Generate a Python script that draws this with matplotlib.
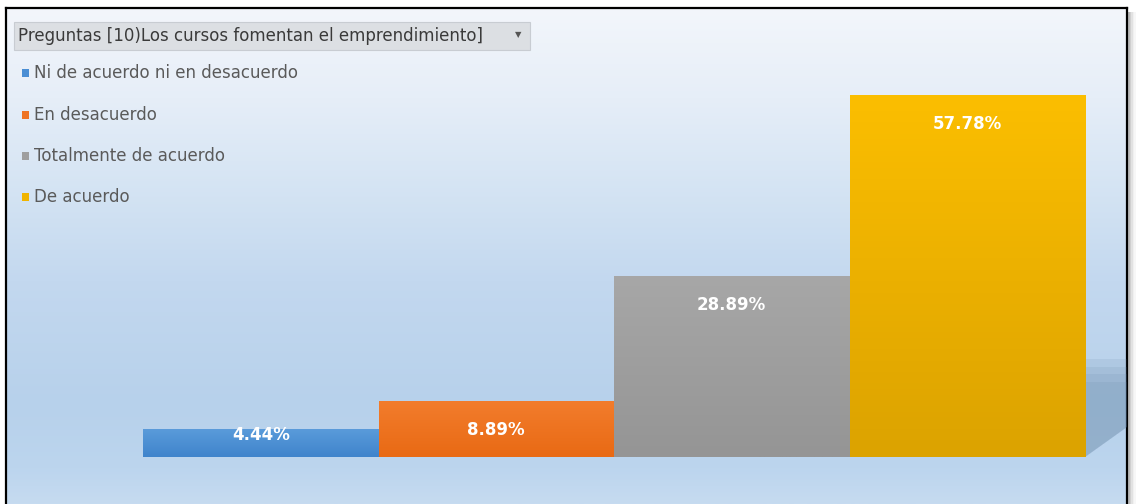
import matplotlib.pyplot as plt
import numpy as np
from matplotlib.patches import Rectangle, Polygon
from matplotlib.colors import LinearSegmentedColormap

# datos
categorias = ['Ni de acuerdo ni en desacuerdo', 'En desacuerdo',
              'Totalmente de acuerdo', 'De acuerdo']
porcentajes = [4.44, 8.89, 28.89, 57.78]
etiquetas = ['4.44%', '8.89%', '28.89%', '57.78%']
titulo_filtro = 'Preguntas [10)Los cursos fomentan el emprendimiento]'

colores = ['#4a8ed4', '#ee7324', '#9f9f9f', '#f0b400']
colores_arriba = ['#5a9bda', '#f27c2c', '#a7a7a7', '#fbbe00']
colores_abajo = ['#3f84cc', '#e96a14', '#959595', '#dca300']

W, H = 1140, 504
plt.rcParams['font.family'] = ['DejaVu Sans']

fig = plt.figure(figsize=(W / 100, H / 100), dpi=100)
fig.patch.set_facecolor('white')

# fondo con degradado dentro del marco
bg = fig.add_axes([6 / W, 0, (1127 - 6) / W, (H - 8) / H])
fondo = LinearSegmentedColormap.from_list('fondo', [
    (0.0, '#c6dbf0'), (0.07, '#bcd5ee'), (0.2, '#b7d1eb'),
    (0.45, '#c3d8ef'), (0.62, '#d3e3f3'), (0.82, '#e6eef8'), (1.0, '#f3f6fb')])
bg.imshow(np.linspace(0, 1, 256).reshape(-1, 1), cmap=fondo, aspect='auto',
          origin='lower', extent=[0, 1, 0, 1])
bg.set_xticks([])
bg.set_yticks([])
for lado in ['left', 'right', 'top']:
    bg.spines[lado].set_color('black')
    bg.spines[lado].set_linewidth(1.6)
bg.spines['bottom'].set_visible(False)

# sombra del marco
for i, a in enumerate([0.35, 0.25, 0.15, 0.08, 0.04]):
    fig.patches.append(Rectangle(((1128 + i * 1.6) / W, 0), 1.6 / W, (H - 12) / H,
                                 transform=fig.transFigure, color='#404040',
                                 alpha=a, lw=0))

# grafico de barras
ax = fig.add_axes([143 / W, (H - 457) / H, (1085 - 143) / W, 376 / H])
ax.set_xlim(-0.5, 3.5)
ax.set_ylim(0, 60)
ax.axis('off')
ax.patch.set_alpha(0)

x = np.arange(len(categorias))
barras = ax.bar(x, porcentajes, width=1.0, color=colores, linewidth=0, zorder=2)

# sombra detras de la ultima barra (difuminada arriba)
ult = barras[-1]
x0 = ult.get_x() + ult.get_width()
for k, a in enumerate([0.12, 0.12, 0.12, 0.12]):
    top = 12 + k * 1.2
    ax.add_patch(Polygon([(x0, 0), (x0, top), (x0 + 0.18, top), (x0 + 0.18, 4.8)],
                         closed=True, color='#5f7fa0', alpha=a, lw=0, zorder=1,
                         clip_on=False))

for b, c1, c2 in zip(barras, colores_arriba, colores_abajo):
    cm = LinearSegmentedColormap.from_list('g', [c2, c1])
    im = ax.imshow(np.linspace(0, 1, 64).reshape(-1, 1), cmap=cm, aspect='auto',
                   origin='lower', zorder=3,
                   extent=[b.get_x(), b.get_x() + b.get_width(), 0, b.get_height()])
    im.set_clip_path(b)
ax.set_xlim(-0.5, 3.5)
ax.set_ylim(0, 60)

for xi, v, t in zip(x, porcentajes, etiquetas):
    ax.text(xi, max(v - 4.6, 3.5), t, ha='center', va='center', color='white',
            fontsize=12, fontweight='bold', zorder=4)

# boton de filtro
fig.patches.append(Rectangle((14 / W, 1 - 50 / H), (530 - 14) / W, 28 / H,
                             transform=fig.transFigure, facecolor='#dcdfe3',
                             edgecolor='#c8ccd2', lw=0.8))
fig.text(18 / W, 1 - 36 / H, titulo_filtro, fontsize=12, color='#3a3a3a',
         va='center', ha='left')
fig.text(518 / W, 1 - 35 / H, '▼', fontsize=6, color='#555555',
         va='center', ha='center')

# leyenda
ys = [73, 115, 156, 197]
for cat, col, yy in zip(categorias, colores, ys):
    fig.patches.append(Rectangle((22 / W, 1 - (yy + 4) / H), 7 / W, 8 / H,
                                 transform=fig.transFigure, color=col, lw=0))
    fig.text(34 / W, 1 - yy / H, cat, fontsize=12, color='#5a5a5a',
             va='center', ha='left')

plt.savefig('out.png', dpi=100)
